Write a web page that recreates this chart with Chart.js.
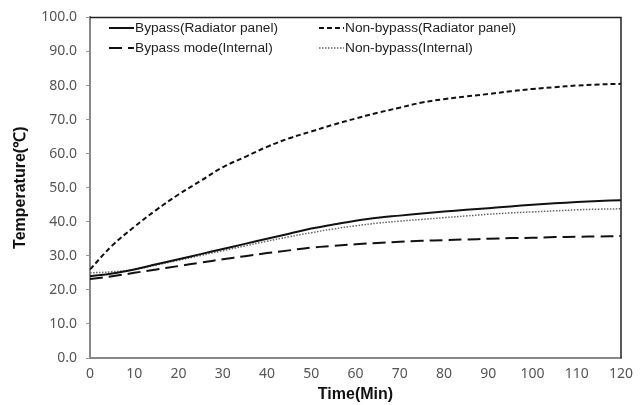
<!DOCTYPE html>
<html><head><meta charset="utf-8">
<script src="https://cdn.jsdelivr.net/npm/chart.js@4"></script>
<style>html,body{margin:0;padding:0;background:#fff;}#wrap{width:644px;height:405px;}</style>
</head><body><div id="wrap"><canvas id="c" width="644" height="405"></canvas></div>
<script>
const times = [0,5,10,15,20,25,30,35,40,45,50,55,60,65,70,75,80,85,90,95,100,105,110,115,120];
const bypassRadiator = [24,24.8,26,27.5,29,30.5,32,33.5,35,36.5,38,39.2,40.3,41.2,41.8,42.4,43,43.5,44,44.5,45,45.4,45.8,46.1,46.3];
const nonBypassRadiator = [26,33,38.5,43.5,48,52,56,59,62,64.5,66.5,68.5,70.3,72,73.5,75,76,76.8,77.5,78.3,79,79.5,80,80.3,80.5];
const bypassInternal = [23.2,24,25,26,27,28,29,29.9,30.8,31.6,32.4,32.9,33.4,33.8,34.1,34.4,34.6,34.8,35,35.2,35.3,35.5,35.6,35.7,35.8];
const nonBypassInternal = [25,25.3,26,27.3,28.7,30.1,31.5,32.9,34.3,35.6,36.8,37.9,38.8,39.6,40.2,40.7,41.2,41.7,42.2,42.6,42.9,43.2,43.5,43.7,43.8];
const seriesLabels = ['Bypass(Radiator panel)','Non-bypass(Radiator panel)','Bypass mode(Internal)','Non-bypass(Internal)'];
const yTicks = [0,10,20,30,40,50,60,70,80,90,100];
const xTicks = [0,10,20,30,40,50,60,70,80,90,100,110,120];

const pts = arr => arr.map((v,i)=>({x:times[i],y:v}));

const frame = {
  id:'frame',
  afterDatasetsDraw(chart){
    const {ctx, chartArea:a} = chart;
    ctx.save();
    ctx.strokeStyle = '#222'; ctx.lineWidth = 1.5;
    ctx.beginPath(); ctx.moveTo(a.left, a.top); ctx.lineTo(a.right, a.top); ctx.lineTo(a.right, a.bottom); ctx.stroke();
    ctx.restore();
  }
};
const legendPlug = {
  id:'legendPlug',
  afterDraw(chart){
    const ctx = chart.ctx;
    const pos = [[109,28],[319,28],[109,48],[319,48]];
    ctx.save();
    ctx.font = '13.7px "Liberation Sans", Arial, sans-serif';
    ctx.textBaseline = 'middle';
    chart.data.datasets.forEach((ds,i)=>{
      const [x,y] = pos[i];
      ctx.strokeStyle = ds.borderColor; ctx.lineWidth = ds.borderWidth;
      ctx.setLineDash(ds.borderDash || []);
      ctx.beginPath(); ctx.moveTo(x, y); ctx.lineTo(x+25, y); ctx.stroke();
      ctx.setLineDash([]);
      ctx.fillStyle = '#222';
      ctx.fillText(ds.label, x+26, y);
    });
    ctx.restore();
  }
};

new Chart(document.getElementById('c'), {
  type:'line',
  data:{datasets:[
    {label:seriesLabels[0], data:pts(bypassRadiator), borderColor:'#111', borderWidth:2, borderDash:[], pointRadius:0, tension:0.4},
    {label:seriesLabels[1], data:pts(nonBypassRadiator), borderColor:'#111', borderWidth:2, borderDash:[5,3], pointRadius:0, tension:0.4},
    {label:seriesLabels[2], data:pts(bypassInternal), borderColor:'#111', borderWidth:2, borderDash:[13,6], pointRadius:0, tension:0.4},
    {label:seriesLabels[3], data:pts(nonBypassInternal), borderColor:'#666', borderWidth:1.5, borderDash:[1.5,1.5], pointRadius:0, tension:0.4}
  ]},
  options:{
    responsive:false, animation:false, devicePixelRatio:1,
    layout:{padding:{left:0,right:23,top:13,bottom:0}},
    plugins:{legend:{display:false}, tooltip:{enabled:false}},
    scales:{
      x:{type:'linear', min:0, max:120,
        afterBuildTicks(s){ s.ticks = xTicks.map(v=>({value:v})); },
        afterFit(s){ s.height = 47; },
        grid:{display:false, drawTicks:false},
        border:{color:'#888', width:2},
        ticks:{color:'#555', font:{family:'"Noto Sans", sans-serif', size:14}, padding:8, maxRotation:0, autoSkip:false},
        title:{display:true, text:'Time(Min)', color:'#111', font:{family:'"Liberation Sans", Arial, sans-serif', size:16, weight:'bold'}, padding:{top:0,bottom:1}}
      },
      y:{min:0, max:100,
        afterBuildTicks(s){ s.ticks = yTicks.map(v=>({value:v})); },
        afterFit(s){ s.width = 90; },
        grid:{display:true, drawOnChartArea:false, drawTicks:true, tickLength:4, color:'#999', tickColor:'#999'},
        border:{color:'#888', width:2},
        ticks:{color:'#555', font:{family:'"Noto Sans", sans-serif', size:14}, padding:9, callback:v=>v.toFixed(1)},
        title:{display:true, text:'Temperature(℃)', color:'#111', font:{family:'"Liberation Sans", Arial, sans-serif', size:16, weight:'bold'}, padding:{top:11,bottom:0}}
      }
    }
  },
  plugins:[frame, legendPlug]
});
</script></body></html>
